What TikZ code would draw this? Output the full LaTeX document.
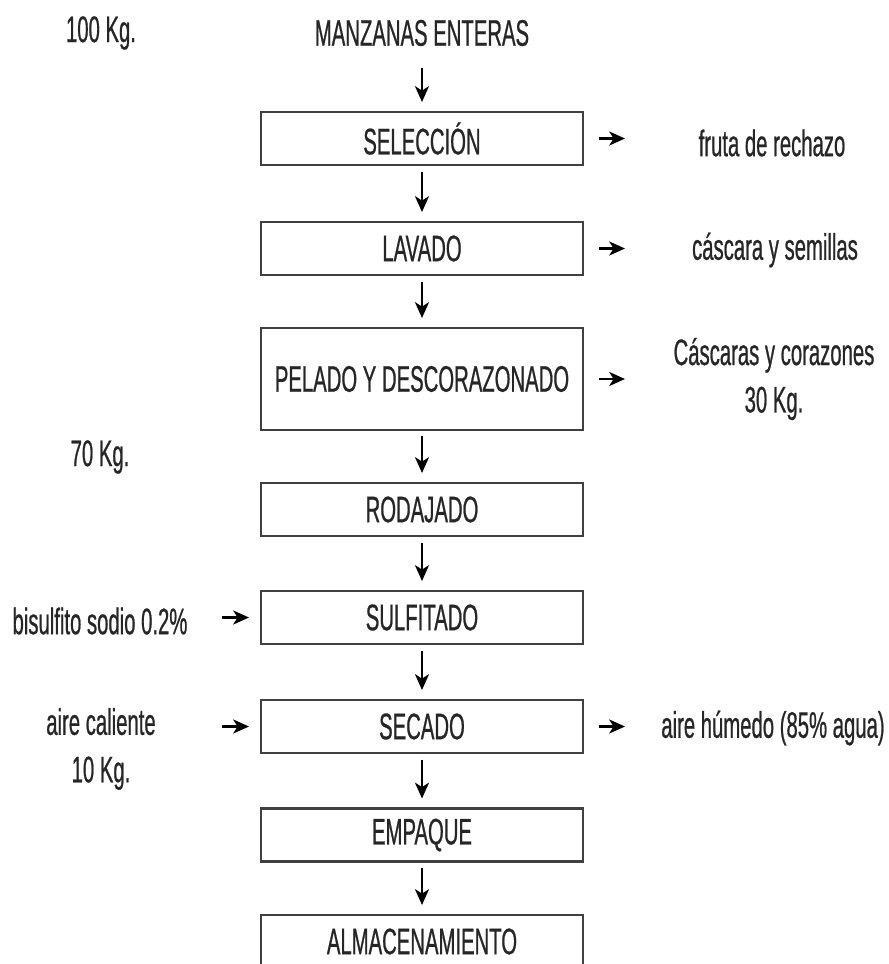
\documentclass[tikz,border=0pt]{standalone}
\usepackage{fontspec}
\setmainfont[FakeStretch=0.55,FakeBold=0.6]{Liberation Sans}
\usetikzlibrary{calc,arrows.meta}

\begin{document}
\begin{tikzpicture}[x=0.02cm,y=-0.02cm,>={Stealth[length=9pt,width=8pt,inset=2.5pt]},
  txt/.style={text=black!85,font=\fontsize{21}{27}\selectfont,inner sep=0pt,align=center},
  stage/.style={txt,draw=black!75,line width=1.4pt,fill=white,minimum width=6.44cm,minimum height=1.06cm},
  flow/.style={->,line width=1.3pt,shorten <=3pt,shorten >=5pt},
  side/.style={->,line width=1.3pt}]
  % Frame
  \clip (0,0) rectangle (889,964);
  \useasboundingbox (0,0) rectangle (889,964);

  % Parameters
  \def\cx{422}   % centre of the column

  % Stages
  \node[txt] (raw) at (\cx,33) {MANZANAS ENTERAS};
  \node[stage] (sel) at (\cx,138.5) {SELECCIÓN};
  \node[stage] (lav) at (\cx,248.5) {LAVADO};
  \node[stage,minimum height=2.04cm] (pel) at (\cx,379) {PELADO Y DESCORAZONADO};
  \node[stage] (rod) at (\cx,509.5) {RODAJADO};
  \node[stage] (sul) at (\cx,617.5) {SULFITADO};
  \node[stage] (sec) at (\cx,726.5) {SECADO};
  \node[stage] (emp) at (\cx,835) {EMPAQUE};
  \node[stage] (alm) at (\cx,941.5) {ALMACENAMIENTO};

  % Main flow
  \draw[flow,shorten <=12pt] (raw) -- (sel);
  \draw[flow] (sel) -- (lav);
  \draw[flow] (lav) -- (pel);
  \draw[flow] (pel) -- (rod);
  \draw[flow] (rod) -- (sul);
  \draw[flow] (sul) -- (sec);
  \draw[flow] (sec) -- (emp);
  \draw[flow] (emp) -- (alm);

  % Outputs (right)
  \node[txt] (rech) at (772,143) {fruta de rechazo};
  \node[txt] (casc) at (775,250) {cáscara y semillas};
  \node[txt] (coraz) at (774,379) {Cáscaras y corazones\\30 Kg.};
  \node[txt] (hum) at (773,728) {aire húmedo (85\% agua)};

  \coordinate (rA) at (599,0);
  \coordinate (rB) at (625,0);
  \draw[side] (sel.east -| rA) -- (sel.east -| rB);
  \draw[side] (lav.east -| rA) -- (lav.east -| rB);
  \draw[side] (pel.east -| rA) -- (pel.east -| rB);
  \draw[side] (sec.east -| rA) -- (sec.east -| rB);

  % Inputs (left)
  \node[txt] (bisul) at (100,621) {bisulfito sodio 0.2\%};
  \node[txt] (aire) at (101,749) {aire caliente\\10 Kg.};

  \coordinate (lA) at (222,0);
  \coordinate (lB) at (249,0);
  \draw[side] (sul.west -| lA) -- (sul.west -| lB);
  \draw[side] (sec.west -| lA) -- (sec.west -| lB);

  % Masses
  \node[txt] (m100) at (101,33) {100 Kg.};
  \node[txt] (m70) at (100,457) {70 Kg.};
\end{tikzpicture}
\end{document}
